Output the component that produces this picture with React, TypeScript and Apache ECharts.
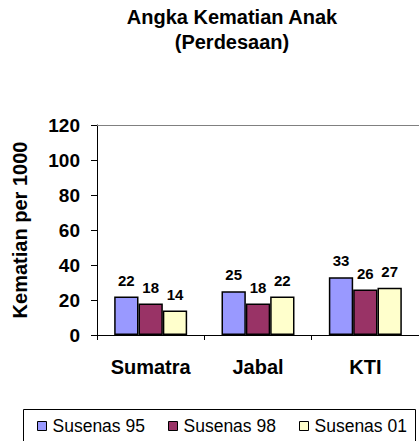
import React, { useEffect, useRef } from "react";
import * as echarts from "echarts";

const categories = ["Sumatra", "Jabal", "KTI"];
const seriesNames = ["Susenas 95", "Susenas 98", "Susenas 01"];
const susenas95 = [22, 25, 33];
const susenas98 = [18, 18, 26];
const susenas01 = [14, 22, 27];
const colors = ["#9999FF", "#993366", "#FFFFCC"];

const FONT = '"Liberation Sans", Arial, sans-serif';

export default function App() {
  const ref = useRef<HTMLDivElement>(null);
  useEffect(() => {
    if (!ref.current) return;
    const chart = echarts.init(ref.current, null, { renderer: "svg" });
    const data = [susenas95, susenas98, susenas01];
    const legendLefts = [37, 168, 299];
    chart.setOption({
      animation: false,
      backgroundColor: "#ffffff",
      textStyle: { fontFamily: FONT },
      title: {
        text: "Angka Kematian Anak\n(Perdesaan)",
        left: 232,
        top: 4,
        padding: 0,
        textAlign: "center",
        textStyle: {
          fontFamily: FONT,
          fontWeight: "bold",
          fontSize: 20,
          lineHeight: 25,
          color: "#000",
        },
      },
      legend: seriesNames.map((n, i) => ({
        data: [n],
        left: legendLefts[i],
        top: 417,
        padding: 0,
        itemWidth: 9,
        itemHeight: 9,
        itemGap: 0,
        icon: "rect",
        itemStyle: { borderColor: "#000", borderWidth: 1 },
        textStyle: {
          fontFamily: FONT,
          fontSize: 17.5,
          color: "#000",
          padding: [0, 0, 0, 1],
        },
        selectedMode: false,
      })),
      graphic: [
        {
          type: "rect",
          shape: { x: 23.5, y: 409.5, width: 392, height: 40 },
          style: { fill: "none", stroke: "#000", lineWidth: 1 },
          silent: true,
        },
      ],
      grid: { left: 97, top: 125, width: 326, height: 210 },
      xAxis: [
        {
          type: "category",
          data: categories,
          axisLine: { lineStyle: { color: "#000", width: 1 } },
          axisTick: { show: true, length: 5, lineStyle: { color: "#000" } },
          axisLabel: {
            margin: 22,
            fontFamily: FONT,
            fontWeight: "bold",
            fontSize: 20,
            color: "#000",
          },
        },
        {
          type: "category",
          data: categories,
          position: "top",
          axisLine: { lineStyle: { color: "#808080", width: 1 } },
          axisTick: { show: false },
          axisLabel: { show: false },
        },
      ],
      yAxis: {
        type: "value",
        min: 0,
        max: 120,
        interval: 20,
        name: "Kematian per 1000",
        nameLocation: "middle",
        nameGap: 67,
        nameTextStyle: {
          fontFamily: FONT,
          fontWeight: "bold",
          fontSize: 20,
          color: "#000",
        },
        axisLine: { show: true, lineStyle: { color: "#000", width: 1 } },
        axisTick: { show: true, length: 6, lineStyle: { color: "#000" } },
        splitLine: { show: false },
        axisLabel: {
          margin: 17,
          fontFamily: FONT,
          fontWeight: "bold",
          fontSize: 19,
          color: "#000",
        },
      },
      series: seriesNames.map((n, i) => ({
        name: n,
        type: "bar",
        data: data[i],
        barGap: "0%",
        barCategoryGap: "32%",
        itemStyle: { color: colors[i], borderColor: "#000", borderWidth: 1.5 },
        label: {
          show: true,
          position: "top",
          distance: 9,
          fontFamily: FONT,
          fontWeight: "bold",
          fontSize: 15,
          color: "#000",
        },
      })),
    });
    return () => chart.dispose();
  }, []);
  return (
    <div
      ref={ref}
      style={{ position: "fixed", left: 0, top: 0, width: 419, height: 441 }}
    />
  );
}
